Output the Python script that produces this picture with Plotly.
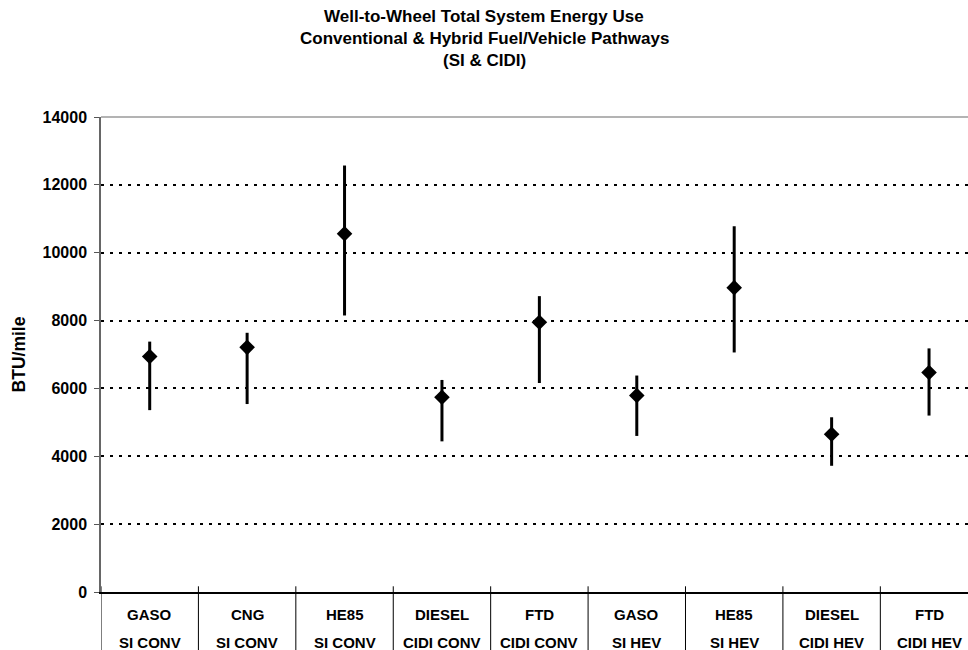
import plotly.graph_objects as go

# ---- data ----
fuels = ["GASO", "CNG", "HE85", "DIESEL", "FTD", "GASO", "HE85", "DIESEL", "FTD"]
vehicles = ["SI CONV", "SI CONV", "SI CONV", "CIDI CONV", "CIDI CONV",
            "SI HEV", "SI HEV", "CIDI HEV", "CIDI HEV"]
mean_values = [6940, 7210, 10560, 5740, 7950, 5790, 8970, 4650, 6470]
high_values = [7380, 7640, 12570, 6250, 8720, 6380, 10780, 5150, 7180]
low_values = [5360, 5540, 8150, 4440, 6160, 4600, 7060, 3720, 5200]
y_ticks = [0, 2000, 4000, 6000, 8000, 10000, 12000, 14000]
title_lines = ["Well-to-Wheel Total System Energy Use",
               "Conventional & Hybrid Fuel/Vehicle Pathways",
               "(SI & CIDI)"]
y_title = "BTU/mile"

FONT = "Arial, Liberation Sans, Helvetica, sans-serif"

positions = list(range(len(fuels)))
err_plus = [h - m for h, m in zip(high_values, mean_values)]
err_minus = [m - l for m, l in zip(mean_values, low_values)]

fig = go.Figure()
fig.add_trace(go.Scatter(
    x=positions, y=mean_values, mode="markers",
    marker=dict(symbol="diamond", size=12, color="black"),
    error_y=dict(type="data", symmetric=False, array=err_plus, arrayminus=err_minus,
                 color="black", thickness=3, width=0),
    showlegend=False,
    hovertext=[f"{f} {v}" for f, v in zip(fuels, vehicles)],
))

shapes = []
# category separators crossing the axis and running down through the label area
for i in range(len(fuels) + 1):
    shapes.append(dict(type="line", xref="x", yref="paper",
                       x0=i - 0.5, x1=i - 0.5, y0=-0.2, y1=0.012,
                       line=dict(color="black", width=1)))
# top border of plot area
shapes.append(dict(type="line", xref="paper", yref="paper", x0=0, x1=1, y0=1, y1=1,
                   line=dict(color="#9a9a9a", width=1.5), layer="below"))

annotations = []
for i, (f, v) in enumerate(zip(fuels, vehicles)):
    annotations.append(dict(x=i, y=0, xref="x", yref="paper", text=f, showarrow=False,
                            yanchor="middle", yshift=-22,
                            font=dict(family=FONT, size=15, color="black", weight="bold")))
    annotations.append(dict(x=i, y=0, xref="x", yref="paper", text=v, showarrow=False,
                            yanchor="middle", yshift=-50,
                            font=dict(family=FONT, size=15, color="black", weight="bold")))
for k, line in enumerate(title_lines):
    annotations.append(dict(x=(484 - 101) / 867, y=1, xref="paper", yref="paper", text=line,
                            showarrow=False, xanchor="center", yanchor="middle",
                            yshift=117 - (16 + 22 * k),
                            font=dict(family=FONT, size=17, color="black", weight="bold")))

fig.update_layout(
    width=968, height=650,
    margin=dict(l=101, r=0, t=117, b=58),
    paper_bgcolor="white", plot_bgcolor="white",
    font=dict(family=FONT, color="black"),
    shapes=shapes, annotations=annotations,
    xaxis=dict(range=[-0.5, 8.4], showgrid=False, zeroline=False,
               showticklabels=False, ticks="", showline=True,
               linecolor="black", linewidth=1.5, fixedrange=True),
    yaxis=dict(range=[0, 14000], tickvals=y_ticks, tickformat="d",
               ticks="outside", ticklen=5,
               tickcolor="#555555", showline=True, linecolor="#666666", linewidth=1.5,
               showgrid=True, gridcolor="black", gridwidth=1.5, griddash="3px,6px",
               zeroline=False,
               tickfont=dict(family=FONT, size=16, color="black", weight="bold"),
               title=dict(text=y_title, standoff=12,
                          font=dict(family=FONT, size=17.5, color="black", weight="bold")),
               ticklabelstandoff=4, fixedrange=True),
)

fig.write_html("out.html", config={"displayModeBar": False},
               post_script="document.body.style.margin='0';document.body.style.overflow='hidden';")
